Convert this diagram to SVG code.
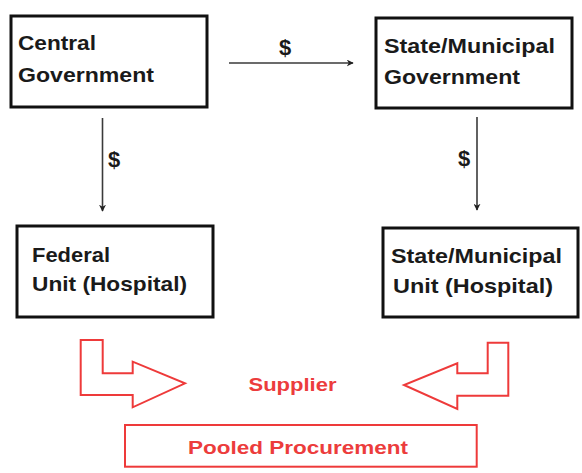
<svg xmlns="http://www.w3.org/2000/svg" width="582" height="473" viewBox="0 0 582 473">
  <defs>
    <style>
      .box { fill: #ffffff; stroke: #111111; stroke-width: 3; }
      .lbl { font-family: "Liberation Sans", Arial, sans-serif; font-weight: bold; font-size: 21px; fill: #1a1a1a; }
      .cash { font-family: "Liberation Sans", Arial, sans-serif; font-weight: bold; font-size: 22px; fill: #1a1a1a; }
      .link { stroke: #3a3a3a; stroke-width: 1.6; fill: none; marker-end: url(#tip); }
      .red { fill: #ffffff; stroke: #ee3a3a; stroke-width: 2; }
      .redtxt { font-family: "Liberation Sans", Arial, sans-serif; font-weight: bold; font-size: 19px; fill: #ec3c3c; }
    </style>
    <marker id="tip" viewBox="0 0 10 10" refX="9" refY="5" markerWidth="7" markerHeight="7" markerUnits="userSpaceOnUse" orient="auto">
      <path d="M0,0 L10,5 L0,10 L3,5 Z" fill="#222222"/>
    </marker>
  </defs>
  <rect width="582" height="473" fill="#ffffff"/>

  <g id="central-government">
    <rect class="box" x="11" y="16" width="196" height="91"/>
    <text class="lbl" x="18" y="50" textLength="78" lengthAdjust="spacingAndGlyphs">Central</text>
    <text class="lbl" x="18" y="82" textLength="136" lengthAdjust="spacingAndGlyphs">Government</text>
  </g>

  <g id="state-municipal-government">
    <rect class="box" x="376" y="18" width="196" height="90"/>
    <text class="lbl" x="384" y="53" textLength="171" lengthAdjust="spacingAndGlyphs">State/Municipal</text>
    <text class="lbl" x="384" y="84" textLength="136" lengthAdjust="spacingAndGlyphs">Government</text>
  </g>

  <g id="federal-unit">
    <rect class="box" x="17" y="226" width="196" height="91"/>
    <text class="lbl" x="32" y="262" textLength="78" lengthAdjust="spacingAndGlyphs">Federal</text>
    <text class="lbl" x="32" y="291" textLength="155" lengthAdjust="spacingAndGlyphs">Unit (Hospital)</text>
  </g>

  <g id="state-municipal-unit">
    <rect class="box" x="383" y="228" width="195" height="89"/>
    <text class="lbl" x="391" y="263" textLength="171" lengthAdjust="spacingAndGlyphs">State/Municipal</text>
    <text class="lbl" x="393" y="293" textLength="160" lengthAdjust="spacingAndGlyphs">Unit  (Hospital)</text>
  </g>

  <g id="connectors">
    <line class="link" x1="229" y1="63" x2="353" y2="63"/>
    <text class="cash" x="279" y="55">$</text>
    <line class="link" x1="102.5" y1="118" x2="102.5" y2="211"/>
    <text class="cash" x="108" y="167">$</text>
    <line class="link" x1="477" y1="117" x2="477" y2="210"/>
    <text class="cash" x="458" y="166">$</text>
  </g>

  <g id="supply-arrows">
    <path class="red" d="M80.7,340 L102.7,340 L102.7,373.3 L132.7,373.3 L132.7,361.7 L185,383.3 L132.7,407.3 L132.7,395 L80.7,395 Z"/>
    <path class="red" d="M508.3,342.7 L487.7,342.7 L487.7,373.3 L457.3,373.3 L457.3,363.3 L404,385 L457.3,409 L457.3,395.7 L508.3,395.7 Z"/>
  </g>

  <g id="supplier">
    <text class="redtxt" x="248.5" y="391" textLength="88" lengthAdjust="spacingAndGlyphs">Supplier</text>
  </g>

  <g id="pooled-procurement">
    <rect class="red" x="125" y="425" width="351.7" height="41.7"/>
    <text class="redtxt" x="188" y="454" textLength="220" lengthAdjust="spacingAndGlyphs">Pooled Procurement</text>
  </g>
</svg>
